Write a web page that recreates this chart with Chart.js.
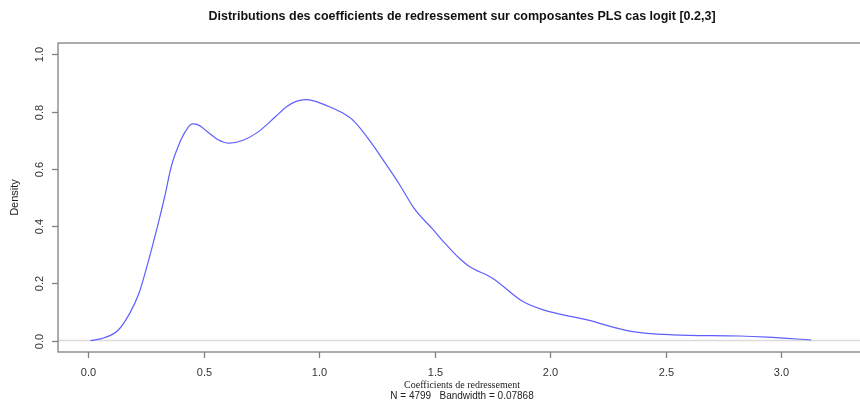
<!DOCTYPE html>
<html>
<head>
<meta charset="utf-8">
<script src="https://cdn.jsdelivr.net/npm/chart.js@4.4.1/dist/chart.umd.min.js"></script>
<style>
  html, body { margin: 0; padding: 0; background: #fff; overflow: hidden; }
  #wrap { width: 880px; height: 403px; }
</style>
</head>
<body>
<div id="wrap"><canvas id="dens" width="880" height="403"></canvas></div>
<script>
// Courbe de densité
const coefX = [0.01, 0.07, 0.13, 0.18, 0.22, 0.26, 0.30, 0.33, 0.36, 0.39, 0.42, 0.45, 0.48, 0.52, 0.56, 0.61, 0.67, 0.74, 0.81, 0.86, 0.90, 0.94, 0.98, 1.03, 1.10, 1.15, 1.22, 1.28, 1.35, 1.41, 1.49, 1.55, 1.61, 1.65, 1.75, 1.88, 1.97, 2.16, 2.35, 2.53, 2.82, 2.94, 3.13];
const densite = [0.0, 0.01, 0.037, 0.096, 0.166, 0.277, 0.40, 0.50, 0.61, 0.68, 0.73, 0.757, 0.752, 0.727, 0.703, 0.690, 0.70, 0.732, 0.782, 0.818, 0.836, 0.842, 0.837, 0.822, 0.796, 0.767, 0.697, 0.627, 0.542, 0.463, 0.39, 0.335, 0.285, 0.259, 0.218, 0.137, 0.107, 0.072, 0.032, 0.020, 0.016, 0.012, 0.002];

const ticksX = [0.0, 0.5, 1.0, 1.5, 2.0, 2.5, 3.0];
const ticksY = [0.0, 0.2, 0.4, 0.6, 0.8, 1.0];

const titre = "Distributions des coefficients de redressement sur composantes PLS cas logit [0.2,3]";
const titreX = "Coefficients de redressement";
const sousTitre = "N = 4799   Bandwidth = 0.07868";
const titreY = "Density";

const points = coefX.map((x, i) => ({ x: x, y: densite[i] }));

// style "plot(density)" de R : boite, ticks, ligne horizontale à 0
const styleR = {
    id: 'styleR',
    beforeDatasetsDraw(chart) {
        const c = chart.ctx, a = chart.chartArea;
        const sy = chart.scales.y;
        c.save();
        c.strokeStyle = '#dcdcdc';
        c.lineWidth = 1.5;
        c.beginPath();
        c.moveTo(a.left, sy.getPixelForValue(0));
        c.lineTo(a.right, sy.getPixelForValue(0));
        c.stroke();
        c.restore();
    },
    afterDraw(chart) {
        const c = chart.ctx, a = chart.chartArea;
        const sx = chart.scales.x, sy = chart.scales.y;
        c.save();
        c.strokeStyle = '#808080';
        c.lineWidth = 1.3;
        c.strokeRect(a.left, a.top, a.right - a.left, a.bottom - a.top);

        c.fillStyle = '#333';
        c.font = '11px "Liberation Sans", Arial, sans-serif';
        c.textAlign = 'center';
        c.textBaseline = 'middle';
        ticksX.forEach(v => {
            const px = Math.round(sx.getPixelForValue(v)) + 0.5;
            c.beginPath();
            c.moveTo(px, a.bottom);
            c.lineTo(px, a.bottom + 6);
            c.stroke();
            c.fillText(v.toFixed(1), px, 373);
        });
        ticksY.forEach(v => {
            const py = Math.round(sy.getPixelForValue(v)) + 0.5;
            c.beginPath();
            c.moveTo(a.left, py);
            c.lineTo(a.left - 6, py);
            c.stroke();
            c.save();
            c.translate(40, py);
            c.rotate(-Math.PI / 2);
            c.fillText(v.toFixed(1), 0, 0);
            c.restore();
        });

        // titres
        const cx = (a.left + a.right) / 2;
        c.fillStyle = '#111';
        c.font = 'bold 12.5px "Liberation Sans", Arial, sans-serif';
        c.fillText(titre, cx, 17);
        c.fillStyle = '#222';
        c.font = '10px "Liberation Serif", "Times New Roman", serif';
        c.fillText(titreX, cx, 385);
        c.font = '10px "Liberation Sans", Arial, sans-serif';
        c.fillText(sousTitre, cx, 396);
        c.save();
        c.translate(15, (a.top + a.bottom) / 2);
        c.rotate(-Math.PI / 2);
        c.font = '11px "Liberation Sans", Arial, sans-serif';
        c.fillText(titreY, 0, 0);
        c.restore();
        c.restore();
    }
};

new Chart(document.getElementById('dens'), {
    type: 'line',
    data: {
        datasets: [{
            data: points,
            borderColor: '#5f5fff',
            borderWidth: 1.2,
            pointRadius: 0,
            fill: false,
            cubicInterpolationMode: 'monotone'
        }]
    },
    options: {
        responsive: false,
        animation: false,
        events: [],
        layout: { padding: { left: 0, right: 14, top: 43, bottom: 0 } },
        plugins: { legend: { display: false }, tooltip: { enabled: false } },
        scales: {
            x: {
                type: 'linear',
                min: -0.131, max: 3.367,
                ticks: { display: false },
                grid: { display: false },
                border: { display: false },
                afterFit: s => { s.height = 51; }
            },
            y: {
                min: -0.04, max: 1.04,
                ticks: { display: false },
                grid: { display: false },
                border: { display: false },
                afterFit: s => { s.width = 58; }
            }
        }
    },
    plugins: [styleR]
});
</script>
</body>
</html>
